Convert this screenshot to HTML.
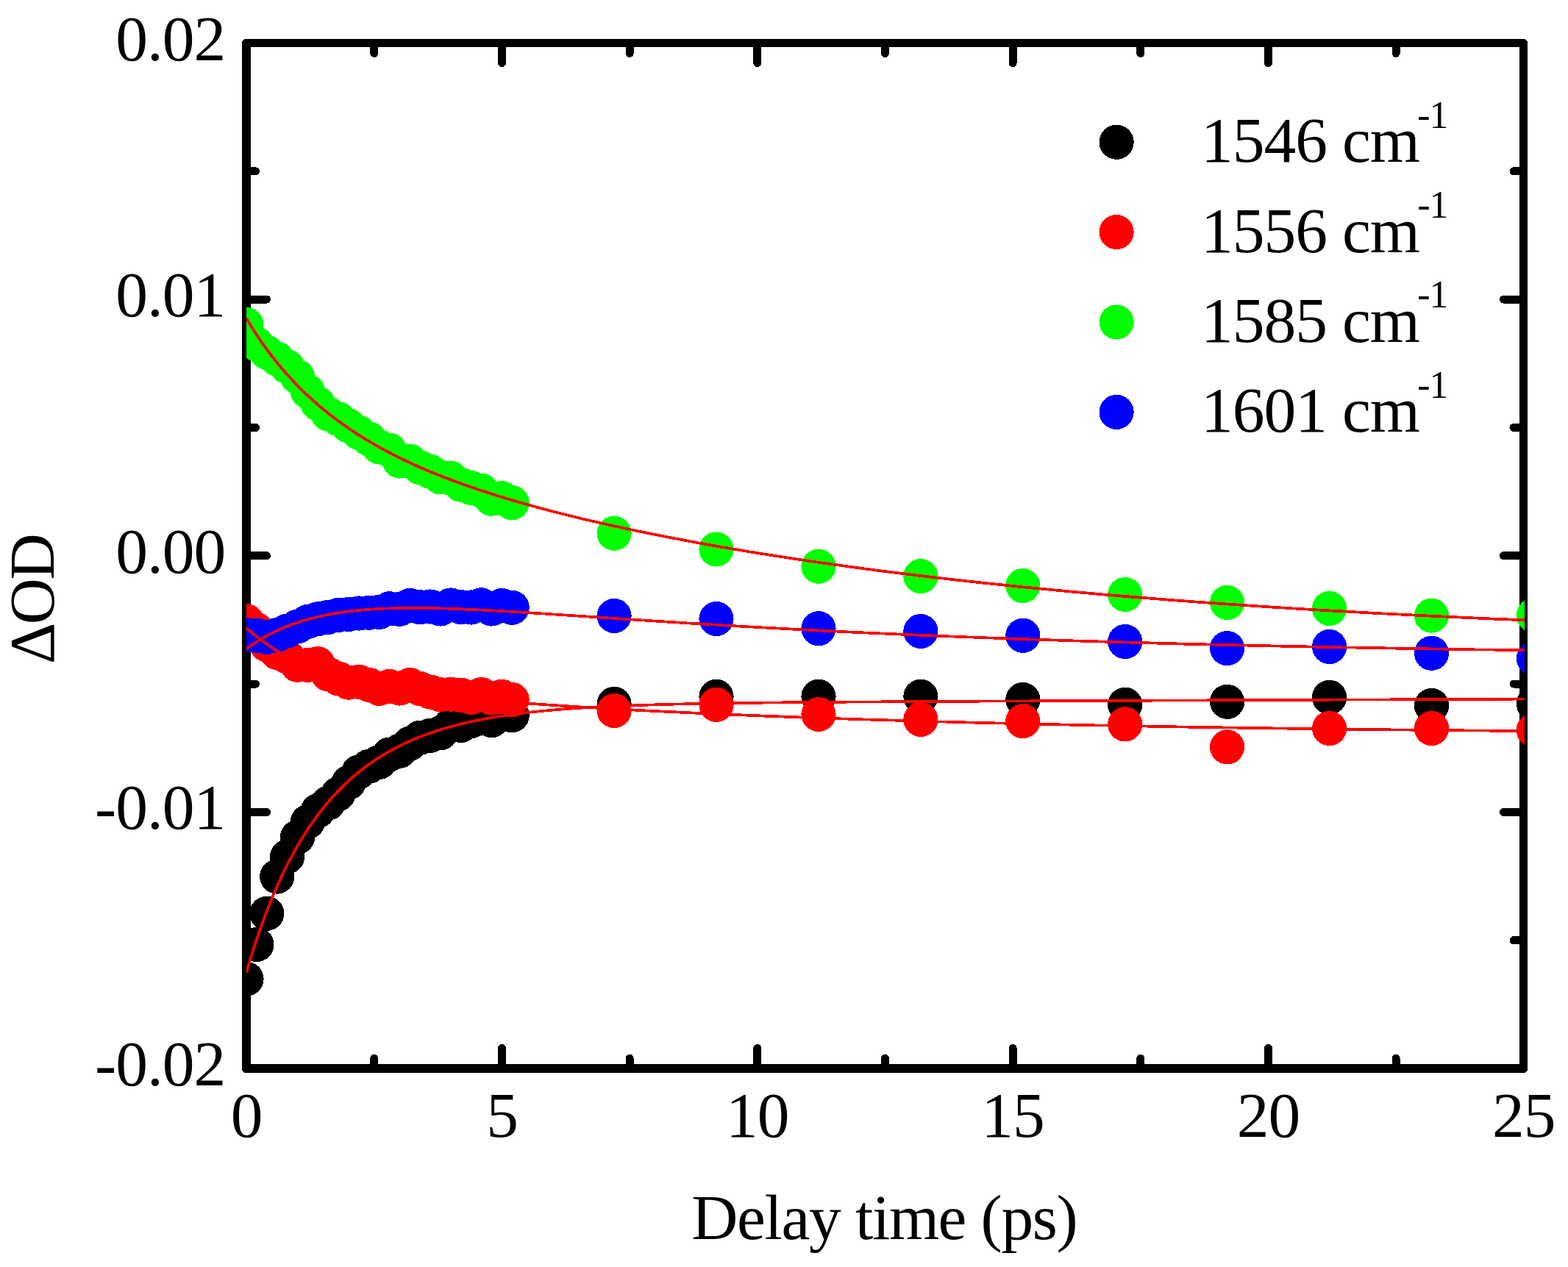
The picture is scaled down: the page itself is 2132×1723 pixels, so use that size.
<!DOCTYPE html>
<html lang="en"><head><meta charset="utf-8"><title>Delay time vs ΔOD</title>
<style>html,body{margin:0;padding:0;background:#fff}body{width:2132px;height:1723px;overflow:hidden}svg{display:block}text{font-family:"Liberation Serif","DejaVu Serif",serif;fill:#000}</style></head><body>
<svg width="2132" height="1723" viewBox="0 0 2132 1723">
<rect width="2132" height="1723" fill="#fff"/>
<defs><clipPath id="plot"><rect x="335" y="58" width="1738" height="1395"/></clipPath></defs>
<g id="frame" fill="#000" shape-rendering="crispEdges">
<path fill-rule="evenodd" d="M334.5,53 H2071.5 A5.5,5.5 0 0 1 2077,58.5 V1453.5 A5.5,5.5 0 0 1 2071.5,1459 H334.5 A5.5,5.5 0 0 1 329,1453.5 V58.5 A5.5,5.5 0 0 1 334.5,53 Z M341,64 V1447 H2066 V64 Z"/>
</g>
<g id="ticks" stroke="#000" stroke-width="11" stroke-linecap="round" fill="none" shape-rendering="crispEdges">
<line x1="508.8" y1="58.5" x2="508.8" y2="72.5"/>
<line x1="508.8" y1="1453.0" x2="508.8" y2="1439.3"/>
<line x1="682.5" y1="58.5" x2="682.5" y2="85.7"/>
<line x1="682.5" y1="1453.0" x2="682.5" y2="1425.5"/>
<line x1="856.1" y1="58.5" x2="856.1" y2="72.5"/>
<line x1="856.1" y1="1453.0" x2="856.1" y2="1439.3"/>
<line x1="1029.8" y1="58.5" x2="1029.8" y2="85.7"/>
<line x1="1029.8" y1="1453.0" x2="1029.8" y2="1425.5"/>
<line x1="1203.4" y1="58.5" x2="1203.4" y2="72.5"/>
<line x1="1203.4" y1="1453.0" x2="1203.4" y2="1439.3"/>
<line x1="1377.1" y1="58.5" x2="1377.1" y2="85.7"/>
<line x1="1377.1" y1="1453.0" x2="1377.1" y2="1425.5"/>
<line x1="1550.8" y1="58.5" x2="1550.8" y2="72.5"/>
<line x1="1550.8" y1="1453.0" x2="1550.8" y2="1439.3"/>
<line x1="1724.4" y1="58.5" x2="1724.4" y2="85.7"/>
<line x1="1724.4" y1="1453.0" x2="1724.4" y2="1425.5"/>
<line x1="1898.0" y1="58.5" x2="1898.0" y2="72.5"/>
<line x1="1898.0" y1="1453.0" x2="1898.0" y2="1439.3"/>
<line x1="335.0" y1="232.9" x2="347.5" y2="232.9"/>
<line x1="2071.5" y1="232.9" x2="2058.0" y2="232.9"/>
<line x1="335.0" y1="407.2" x2="362.5" y2="407.2"/>
<line x1="2071.5" y1="407.2" x2="2044.5" y2="407.2"/>
<line x1="335.0" y1="581.5" x2="347.5" y2="581.5"/>
<line x1="2071.5" y1="581.5" x2="2058.0" y2="581.5"/>
<line x1="335.0" y1="755.8" x2="362.5" y2="755.8"/>
<line x1="2071.5" y1="755.8" x2="2044.5" y2="755.8"/>
<line x1="335.0" y1="930.1" x2="347.5" y2="930.1"/>
<line x1="2071.5" y1="930.1" x2="2058.0" y2="930.1"/>
<line x1="335.0" y1="1104.4" x2="362.5" y2="1104.4"/>
<line x1="2071.5" y1="1104.4" x2="2044.5" y2="1104.4"/>
<line x1="335.0" y1="1278.7" x2="347.5" y2="1278.7"/>
<line x1="2071.5" y1="1278.7" x2="2058.0" y2="1278.7"/>
</g>
<g id="data" clip-path="url(#plot)" shape-rendering="crispEdges">
<g id="series-black" fill="#000">
<circle cx="335.0" cy="1331.2" r="23.6"/>
<circle cx="348.9" cy="1284.5" r="23.6"/>
<circle cx="362.8" cy="1242.3" r="23.6"/>
<circle cx="376.7" cy="1192.1" r="23.6"/>
<circle cx="390.6" cy="1165.0" r="23.6"/>
<circle cx="404.5" cy="1138.5" r="23.6"/>
<circle cx="418.4" cy="1117.6" r="23.6"/>
<circle cx="432.2" cy="1102.7" r="23.6"/>
<circle cx="446.1" cy="1092.2" r="23.6"/>
<circle cx="460.0" cy="1079.6" r="23.6"/>
<circle cx="473.9" cy="1064.4" r="23.6"/>
<circle cx="487.8" cy="1050.0" r="23.6"/>
<circle cx="501.7" cy="1042.2" r="23.6"/>
<circle cx="515.6" cy="1036.4" r="23.6"/>
<circle cx="529.5" cy="1026.2" r="23.6"/>
<circle cx="543.4" cy="1021.3" r="23.6"/>
<circle cx="557.3" cy="1011.2" r="23.6"/>
<circle cx="571.2" cy="1003.2" r="23.6"/>
<circle cx="585.1" cy="1000.3" r="23.6"/>
<circle cx="598.9" cy="996.8" r="23.6"/>
<circle cx="612.8" cy="986.4" r="23.6"/>
<circle cx="626.7" cy="986.5" r="23.6"/>
<circle cx="640.6" cy="980.5" r="23.6"/>
<circle cx="654.5" cy="976.9" r="23.6"/>
<circle cx="668.4" cy="979.6" r="23.6"/>
<circle cx="682.3" cy="971.3" r="23.6"/>
<circle cx="696.2" cy="972.8" r="23.6"/>
<circle cx="835.1" cy="957.4" r="23.6"/>
<circle cx="974.0" cy="947.3" r="23.6"/>
<circle cx="1113.0" cy="947.3" r="23.6"/>
<circle cx="1251.9" cy="947.3" r="23.6"/>
<circle cx="1390.8" cy="951.5" r="23.6"/>
<circle cx="1529.7" cy="958.3" r="23.6"/>
<circle cx="1668.6" cy="954.3" r="23.6"/>
<circle cx="1807.6" cy="948.3" r="23.6"/>
<circle cx="1946.5" cy="959.5" r="23.6"/>
<circle cx="2085.4" cy="957.0" r="23.6"/>
</g>
<g id="series-red" fill="#f00">
<circle cx="335.0" cy="844.5" r="23.6"/>
<circle cx="348.9" cy="856.4" r="23.6"/>
<circle cx="362.8" cy="876.9" r="23.6"/>
<circle cx="376.7" cy="887.4" r="23.6"/>
<circle cx="390.6" cy="893.0" r="23.6"/>
<circle cx="404.5" cy="904.3" r="23.6"/>
<circle cx="418.4" cy="904.4" r="23.6"/>
<circle cx="432.2" cy="902.7" r="23.6"/>
<circle cx="446.1" cy="916.8" r="23.6"/>
<circle cx="460.0" cy="922.8" r="23.6"/>
<circle cx="473.9" cy="928.1" r="23.6"/>
<circle cx="487.8" cy="927.2" r="23.6"/>
<circle cx="501.7" cy="931.3" r="23.6"/>
<circle cx="515.6" cy="936.3" r="23.6"/>
<circle cx="529.5" cy="933.5" r="23.6"/>
<circle cx="543.4" cy="936.0" r="23.6"/>
<circle cx="557.3" cy="931.5" r="23.6"/>
<circle cx="571.2" cy="936.6" r="23.6"/>
<circle cx="585.1" cy="941.0" r="23.6"/>
<circle cx="598.9" cy="944.7" r="23.6"/>
<circle cx="612.8" cy="944.2" r="23.6"/>
<circle cx="626.7" cy="945.3" r="23.6"/>
<circle cx="640.6" cy="948.3" r="23.6"/>
<circle cx="654.5" cy="944.6" r="23.6"/>
<circle cx="668.4" cy="949.2" r="23.6"/>
<circle cx="682.3" cy="947.2" r="23.6"/>
<circle cx="696.2" cy="951.5" r="23.6"/>
<circle cx="835.1" cy="966.5" r="23.6"/>
<circle cx="974.0" cy="958.3" r="23.6"/>
<circle cx="1113.0" cy="971.4" r="23.6"/>
<circle cx="1251.9" cy="978.5" r="23.6"/>
<circle cx="1390.8" cy="980.6" r="23.6"/>
<circle cx="1529.7" cy="984.8" r="23.6"/>
<circle cx="1668.6" cy="1015.8" r="23.6"/>
<circle cx="1807.6" cy="990.5" r="23.6"/>
<circle cx="1946.5" cy="990.5" r="23.6"/>
<circle cx="2085.4" cy="993.0" r="23.6"/>
</g>
<g id="series-green" fill="#0f0">
<circle cx="335.0" cy="441.4" r="23.6"/>
<circle cx="348.9" cy="467.9" r="23.6"/>
<circle cx="362.8" cy="479.2" r="23.6"/>
<circle cx="376.7" cy="488.0" r="23.6"/>
<circle cx="390.6" cy="498.7" r="23.6"/>
<circle cx="404.5" cy="512.4" r="23.6"/>
<circle cx="418.4" cy="532.3" r="23.6"/>
<circle cx="432.2" cy="548.8" r="23.6"/>
<circle cx="446.1" cy="562.8" r="23.6"/>
<circle cx="460.0" cy="569.6" r="23.6"/>
<circle cx="473.9" cy="579.0" r="23.6"/>
<circle cx="487.8" cy="588.3" r="23.6"/>
<circle cx="501.7" cy="596.8" r="23.6"/>
<circle cx="515.6" cy="607.8" r="23.6"/>
<circle cx="529.5" cy="612.2" r="23.6"/>
<circle cx="543.4" cy="627.0" r="23.6"/>
<circle cx="557.3" cy="627.2" r="23.6"/>
<circle cx="571.2" cy="635.9" r="23.6"/>
<circle cx="585.1" cy="641.3" r="23.6"/>
<circle cx="598.9" cy="648.9" r="23.6"/>
<circle cx="612.8" cy="650.3" r="23.6"/>
<circle cx="626.7" cy="659.2" r="23.6"/>
<circle cx="640.6" cy="663.5" r="23.6"/>
<circle cx="654.5" cy="667.2" r="23.6"/>
<circle cx="668.4" cy="678.2" r="23.6"/>
<circle cx="682.3" cy="677.6" r="23.6"/>
<circle cx="696.2" cy="683.7" r="23.6"/>
<circle cx="835.1" cy="725.2" r="23.6"/>
<circle cx="974.0" cy="747.0" r="23.6"/>
<circle cx="1113.0" cy="770.2" r="23.6"/>
<circle cx="1251.9" cy="783.6" r="23.6"/>
<circle cx="1390.8" cy="796.5" r="23.6"/>
<circle cx="1529.7" cy="808.5" r="23.6"/>
<circle cx="1668.6" cy="819.5" r="23.6"/>
<circle cx="1807.6" cy="827.4" r="23.6"/>
<circle cx="1946.5" cy="837.1" r="23.6"/>
<circle cx="2085.4" cy="836.8" r="23.6"/>
</g>
<g id="series-blue" fill="#00f">
<circle cx="335.0" cy="863.4" r="23.6"/>
<circle cx="348.9" cy="864.2" r="23.6"/>
<circle cx="362.8" cy="866.3" r="23.6"/>
<circle cx="376.7" cy="863.5" r="23.6"/>
<circle cx="390.6" cy="858.0" r="23.6"/>
<circle cx="404.5" cy="852.0" r="23.6"/>
<circle cx="418.4" cy="845.4" r="23.6"/>
<circle cx="432.2" cy="841.8" r="23.6"/>
<circle cx="446.1" cy="839.4" r="23.6"/>
<circle cx="460.0" cy="836.5" r="23.6"/>
<circle cx="473.9" cy="835.5" r="23.6"/>
<circle cx="487.8" cy="834.0" r="23.6"/>
<circle cx="501.7" cy="833.2" r="23.6"/>
<circle cx="515.6" cy="832.4" r="23.6"/>
<circle cx="529.5" cy="827.8" r="23.6"/>
<circle cx="543.4" cy="828.3" r="23.6"/>
<circle cx="557.3" cy="823.4" r="23.6"/>
<circle cx="571.2" cy="825.7" r="23.6"/>
<circle cx="585.1" cy="825.0" r="23.6"/>
<circle cx="598.9" cy="828.0" r="23.6"/>
<circle cx="612.8" cy="823.0" r="23.6"/>
<circle cx="626.7" cy="825.7" r="23.6"/>
<circle cx="640.6" cy="826.0" r="23.6"/>
<circle cx="654.5" cy="822.8" r="23.6"/>
<circle cx="668.4" cy="828.0" r="23.6"/>
<circle cx="682.3" cy="823.5" r="23.6"/>
<circle cx="696.2" cy="826.3" r="23.6"/>
<circle cx="835.1" cy="837.5" r="23.6"/>
<circle cx="974.0" cy="841.5" r="23.6"/>
<circle cx="1113.0" cy="854.7" r="23.6"/>
<circle cx="1251.9" cy="858.5" r="23.6"/>
<circle cx="1390.8" cy="864.3" r="23.6"/>
<circle cx="1529.7" cy="872.5" r="23.6"/>
<circle cx="1668.6" cy="881.6" r="23.6"/>
<circle cx="1807.6" cy="879.5" r="23.6"/>
<circle cx="1946.5" cy="888.3" r="23.6"/>
<circle cx="2085.4" cy="895.7" r="23.6"/>
</g>
<g id="fits" fill="none" stroke="#f00" stroke-width="3.7" stroke-linejoin="round">
<path id="fit-black" d="M335.0,1322.5 L341.7,1300.0 L348.4,1279.1 L355.2,1259.6 L361.9,1241.4 L368.6,1224.3 L375.3,1208.4 L382.0,1193.6 L388.7,1179.6 L395.5,1166.6 L402.2,1154.4 L408.9,1142.9 L415.6,1132.1 L422.3,1122.0 L429.1,1112.5 L435.8,1103.5 L442.5,1095.1 L449.2,1087.2 L455.9,1079.8 L462.6,1072.8 L469.4,1066.2 L476.1,1059.9 L482.8,1054.1 L489.5,1048.6 L496.2,1043.4 L503.0,1038.5 L509.7,1033.8 L516.4,1029.5 L523.1,1025.4 L529.8,1021.5 L536.5,1017.8 L543.3,1014.4 L550.0,1011.1 L556.7,1008.0 L563.4,1005.1 L570.1,1002.4 L576.8,999.8 L583.6,997.4 L590.3,995.0 L597.0,992.9 L603.7,990.8 L610.4,988.9 L617.2,987.0 L623.9,985.3 L630.6,983.6 L637.3,982.1 L644.0,980.6 L650.7,979.3 L657.5,977.9 L664.2,976.7 L670.9,975.5 L677.6,974.4 L684.3,973.4 L691.1,972.4 L697.8,971.5 L704.5,970.6 L711.2,969.8 L717.9,969.0 L724.6,968.2 L731.4,967.5 L738.1,966.8 L744.8,966.2 L751.5,965.6 L758.2,965.0 L765.0,964.5 L771.7,964.0 L778.4,963.5 L785.1,963.1 L791.8,962.6 L798.5,962.2 L805.3,961.8 L812.0,961.5 L818.7,961.1 L825.4,960.8 L832.1,960.5 L838.9,960.2 L845.6,959.9 L852.3,959.6 L859.0,959.4 L865.7,959.1 L872.4,958.9 L879.2,958.7 L885.9,958.5 L892.6,958.3 L899.3,958.1 L906.0,957.9 L912.8,957.7 L919.5,957.6 L926.2,957.4 L932.9,957.3 L939.6,957.1 L946.3,957.0 L953.1,956.9 L959.8,956.7 L966.5,956.6 L973.2,956.5 L979.9,956.4 L986.7,956.3 L993.4,956.2 L1000.1,956.1 L1006.8,956.0 L1013.5,955.9 L1020.2,955.8 L1027.0,955.7 L1033.7,955.7 L1040.4,955.6 L1047.1,955.5 L1053.8,955.5 L1060.5,955.4 L1067.3,955.3 L1074.0,955.3 L1080.7,955.2 L1087.4,955.1 L1094.1,955.1 L1100.9,955.0 L1107.6,955.0 L1114.3,954.9 L1121.0,954.9 L1127.7,954.8 L1134.4,954.8 L1141.2,954.7 L1147.9,954.7 L1154.6,954.6 L1161.3,954.6 L1168.0,954.5 L1174.8,954.5 L1181.5,954.5 L1188.2,954.4 L1194.9,954.4 L1201.6,954.3 L1208.3,954.3 L1215.1,954.3 L1221.8,954.2 L1228.5,954.2 L1235.2,954.1 L1241.9,954.1 L1248.7,954.1 L1255.4,954.0 L1262.1,954.0 L1268.8,954.0 L1275.5,953.9 L1282.2,953.9 L1289.0,953.9 L1295.7,953.8 L1302.4,953.8 L1309.1,953.8 L1315.8,953.7 L1322.6,953.7 L1329.3,953.7 L1336.0,953.6 L1342.7,953.6 L1349.4,953.6 L1356.1,953.6 L1362.9,953.5 L1369.6,953.5 L1376.3,953.5 L1383.0,953.4 L1389.7,953.4 L1396.5,953.4 L1403.2,953.3 L1409.9,953.3 L1416.6,953.3 L1423.3,953.3 L1430.0,953.2 L1436.8,953.2 L1443.5,953.2 L1450.2,953.1 L1456.9,953.1 L1463.6,953.1 L1470.3,953.1 L1477.1,953.0 L1483.8,953.0 L1490.5,953.0 L1497.2,952.9 L1503.9,952.9 L1510.7,952.9 L1517.4,952.9 L1524.1,952.8 L1530.8,952.8 L1537.5,952.8 L1544.2,952.7 L1551.0,952.7 L1557.7,952.7 L1564.4,952.7 L1571.1,952.6 L1577.8,952.6 L1584.6,952.6 L1591.3,952.6 L1598.0,952.5 L1604.7,952.5 L1611.4,952.5 L1618.1,952.4 L1624.9,952.4 L1631.6,952.4 L1638.3,952.4 L1645.0,952.3 L1651.7,952.3 L1658.5,952.3 L1665.2,952.3 L1671.9,952.2 L1678.6,952.2 L1685.3,952.2 L1692.0,952.1 L1698.8,952.1 L1705.5,952.1 L1712.2,952.1 L1718.9,952.0 L1725.6,952.0 L1732.4,952.0 L1739.1,952.0 L1745.8,951.9 L1752.5,951.9 L1759.2,951.9 L1765.9,951.8 L1772.7,951.8 L1779.4,951.8 L1786.1,951.8 L1792.8,951.7 L1799.5,951.7 L1806.3,951.7 L1813.0,951.6 L1819.7,951.6 L1826.4,951.6 L1833.1,951.6 L1839.8,951.5 L1846.6,951.5 L1853.3,951.5 L1860.0,951.5 L1866.7,951.4 L1873.4,951.4 L1880.1,951.4 L1886.9,951.4 L1893.6,951.3 L1900.3,951.3 L1907.0,951.3 L1913.7,951.2 L1920.5,951.2 L1927.2,951.2 L1933.9,951.2 L1940.6,951.1 L1947.3,951.1 L1954.0,951.1 L1960.8,951.1 L1967.5,951.0 L1974.2,951.0 L1980.9,951.0 L1987.6,950.9 L1994.4,950.9 L2001.1,950.9 L2007.8,950.9 L2014.5,950.8 L2021.2,950.8 L2027.9,950.8 L2034.7,950.8 L2041.4,950.7 L2048.1,950.7 L2054.8,950.7 L2061.5,950.6 L2068.3,950.6 L2075.0,950.6"/>
<path id="fit-red" d="M335.0,853.9 L341.7,859.8 L348.4,865.3 L355.2,870.5 L361.9,875.3 L368.6,879.8 L375.3,884.1 L382.0,888.0 L388.7,891.8 L395.5,895.3 L402.2,898.6 L408.9,901.7 L415.6,904.6 L422.3,907.3 L429.1,909.9 L435.8,912.4 L442.5,914.7 L449.2,916.9 L455.9,919.0 L462.6,920.9 L469.4,922.8 L476.1,924.5 L482.8,926.2 L489.5,927.8 L496.2,929.3 L503.0,930.7 L509.7,932.1 L516.4,933.4 L523.1,934.7 L529.8,935.9 L536.5,937.0 L543.3,938.1 L550.0,939.1 L556.7,940.2 L563.4,941.1 L570.1,942.1 L576.8,943.0 L583.6,943.8 L590.3,944.7 L597.0,945.5 L603.7,946.2 L610.4,947.0 L617.2,947.7 L623.9,948.4 L630.6,949.1 L637.3,949.8 L644.0,950.4 L650.7,951.1 L657.5,951.7 L664.2,952.3 L670.9,952.9 L677.6,953.5 L684.3,954.0 L691.1,954.6 L697.8,955.1 L704.5,955.6 L711.2,956.1 L717.9,956.6 L724.6,957.1 L731.4,957.6 L738.1,958.1 L744.8,958.5 L751.5,959.0 L758.2,959.4 L765.0,959.9 L771.7,960.3 L778.4,960.7 L785.1,961.2 L791.8,961.6 L798.5,962.0 L805.3,962.4 L812.0,962.8 L818.7,963.2 L825.4,963.6 L832.1,963.9 L838.9,964.3 L845.6,964.7 L852.3,965.0 L859.0,965.4 L865.7,965.8 L872.4,966.1 L879.2,966.5 L885.9,966.8 L892.6,967.1 L899.3,967.5 L906.0,967.8 L912.8,968.1 L919.5,968.4 L926.2,968.8 L932.9,969.1 L939.6,969.4 L946.3,969.7 L953.1,970.0 L959.8,970.3 L966.5,970.6 L973.2,970.9 L979.9,971.2 L986.7,971.5 L993.4,971.8 L1000.1,972.0 L1006.8,972.3 L1013.5,972.6 L1020.2,972.9 L1027.0,973.1 L1033.7,973.4 L1040.4,973.7 L1047.1,973.9 L1053.8,974.2 L1060.5,974.4 L1067.3,974.7 L1074.0,974.9 L1080.7,975.2 L1087.4,975.4 L1094.1,975.7 L1100.9,975.9 L1107.6,976.1 L1114.3,976.4 L1121.0,976.6 L1127.7,976.8 L1134.4,977.1 L1141.2,977.3 L1147.9,977.5 L1154.6,977.7 L1161.3,978.0 L1168.0,978.2 L1174.8,978.4 L1181.5,978.6 L1188.2,978.8 L1194.9,979.0 L1201.6,979.2 L1208.3,979.4 L1215.1,979.6 L1221.8,979.8 L1228.5,980.0 L1235.2,980.2 L1241.9,980.4 L1248.7,980.6 L1255.4,980.8 L1262.1,981.0 L1268.8,981.2 L1275.5,981.4 L1282.2,981.5 L1289.0,981.7 L1295.7,981.9 L1302.4,982.1 L1309.1,982.3 L1315.8,982.4 L1322.6,982.6 L1329.3,982.8 L1336.0,982.9 L1342.7,983.1 L1349.4,983.3 L1356.1,983.4 L1362.9,983.6 L1369.6,983.8 L1376.3,983.9 L1383.0,984.1 L1389.7,984.2 L1396.5,984.4 L1403.2,984.5 L1409.9,984.7 L1416.6,984.8 L1423.3,985.0 L1430.0,985.1 L1436.8,985.3 L1443.5,985.4 L1450.2,985.6 L1456.9,985.7 L1463.6,985.8 L1470.3,986.0 L1477.1,986.1 L1483.8,986.2 L1490.5,986.4 L1497.2,986.5 L1503.9,986.6 L1510.7,986.8 L1517.4,986.9 L1524.1,987.0 L1530.8,987.2 L1537.5,987.3 L1544.2,987.4 L1551.0,987.5 L1557.7,987.6 L1564.4,987.8 L1571.1,987.9 L1577.8,988.0 L1584.6,988.1 L1591.3,988.2 L1598.0,988.3 L1604.7,988.5 L1611.4,988.6 L1618.1,988.7 L1624.9,988.8 L1631.6,988.9 L1638.3,989.0 L1645.0,989.1 L1651.7,989.2 L1658.5,989.3 L1665.2,989.4 L1671.9,989.5 L1678.6,989.6 L1685.3,989.7 L1692.0,989.8 L1698.8,989.9 L1705.5,990.0 L1712.2,990.1 L1718.9,990.2 L1725.6,990.3 L1732.4,990.4 L1739.1,990.5 L1745.8,990.6 L1752.5,990.7 L1759.2,990.8 L1765.9,990.9 L1772.7,990.9 L1779.4,991.0 L1786.1,991.1 L1792.8,991.2 L1799.5,991.3 L1806.3,991.4 L1813.0,991.4 L1819.7,991.5 L1826.4,991.6 L1833.1,991.7 L1839.8,991.8 L1846.6,991.8 L1853.3,991.9 L1860.0,992.0 L1866.7,992.1 L1873.4,992.2 L1880.1,992.2 L1886.9,992.3 L1893.6,992.4 L1900.3,992.4 L1907.0,992.5 L1913.7,992.6 L1920.5,992.7 L1927.2,992.7 L1933.9,992.8 L1940.6,992.9 L1947.3,992.9 L1954.0,993.0 L1960.8,993.1 L1967.5,993.1 L1974.2,993.2 L1980.9,993.3 L1987.6,993.3 L1994.4,993.4 L2001.1,993.5 L2007.8,993.5 L2014.5,993.6 L2021.2,993.6 L2027.9,993.7 L2034.7,993.8 L2041.4,993.8 L2048.1,993.9 L2054.8,993.9 L2061.5,994.0 L2068.3,994.0 L2075.0,994.1"/>
<path id="fit-green" d="M335.0,432.6 L341.7,444.0 L348.4,454.6 L355.2,464.6 L361.9,474.0 L368.6,483.0 L375.3,491.5 L382.0,499.6 L388.7,507.4 L395.5,514.8 L402.2,521.9 L408.9,528.7 L415.6,535.3 L422.3,541.5 L429.1,547.6 L435.8,553.4 L442.5,558.9 L449.2,564.3 L455.9,569.4 L462.6,574.4 L469.4,579.2 L476.1,583.8 L482.8,588.3 L489.5,592.6 L496.2,596.8 L503.0,600.8 L509.7,604.7 L516.4,608.5 L523.1,612.2 L529.8,615.7 L536.5,619.2 L543.3,622.5 L550.0,625.8 L556.7,629.0 L563.4,632.1 L570.1,635.1 L576.8,638.0 L583.6,640.8 L590.3,643.6 L597.0,646.3 L603.7,649.0 L610.4,651.5 L617.2,654.1 L623.9,656.5 L630.6,659.0 L637.3,661.3 L644.0,663.6 L650.7,665.9 L657.5,668.1 L664.2,670.3 L670.9,672.5 L677.6,674.6 L684.3,676.6 L691.1,678.7 L697.8,680.7 L704.5,682.6 L711.2,684.5 L717.9,686.4 L724.6,688.3 L731.4,690.1 L738.1,691.9 L744.8,693.7 L751.5,695.5 L758.2,697.2 L765.0,698.9 L771.7,700.6 L778.4,702.2 L785.1,703.9 L791.8,705.5 L798.5,707.1 L805.3,708.6 L812.0,710.2 L818.7,711.7 L825.4,713.2 L832.1,714.7 L838.9,716.2 L845.6,717.7 L852.3,719.1 L859.0,720.5 L865.7,721.9 L872.4,723.3 L879.2,724.7 L885.9,726.1 L892.6,727.4 L899.3,728.7 L906.0,730.0 L912.8,731.3 L919.5,732.6 L926.2,733.9 L932.9,735.2 L939.6,736.4 L946.3,737.7 L953.1,738.9 L959.8,740.1 L966.5,741.3 L973.2,742.5 L979.9,743.7 L986.7,744.8 L993.4,746.0 L1000.1,747.1 L1006.8,748.2 L1013.5,749.4 L1020.2,750.5 L1027.0,751.6 L1033.7,752.7 L1040.4,753.7 L1047.1,754.8 L1053.8,755.9 L1060.5,756.9 L1067.3,757.9 L1074.0,759.0 L1080.7,760.0 L1087.4,761.0 L1094.1,762.0 L1100.9,763.0 L1107.6,764.0 L1114.3,764.9 L1121.0,765.9 L1127.7,766.9 L1134.4,767.8 L1141.2,768.7 L1147.9,769.7 L1154.6,770.6 L1161.3,771.5 L1168.0,772.4 L1174.8,773.3 L1181.5,774.2 L1188.2,775.1 L1194.9,776.0 L1201.6,776.8 L1208.3,777.7 L1215.1,778.5 L1221.8,779.4 L1228.5,780.2 L1235.2,781.0 L1241.9,781.8 L1248.7,782.7 L1255.4,783.5 L1262.1,784.3 L1268.8,785.0 L1275.5,785.8 L1282.2,786.6 L1289.0,787.4 L1295.7,788.1 L1302.4,788.9 L1309.1,789.6 L1315.8,790.4 L1322.6,791.1 L1329.3,791.9 L1336.0,792.6 L1342.7,793.3 L1349.4,794.0 L1356.1,794.7 L1362.9,795.4 L1369.6,796.1 L1376.3,796.8 L1383.0,797.5 L1389.7,798.2 L1396.5,798.8 L1403.2,799.5 L1409.9,800.1 L1416.6,800.8 L1423.3,801.4 L1430.0,802.1 L1436.8,802.7 L1443.5,803.3 L1450.2,804.0 L1456.9,804.6 L1463.6,805.2 L1470.3,805.8 L1477.1,806.4 L1483.8,807.0 L1490.5,807.6 L1497.2,808.2 L1503.9,808.8 L1510.7,809.3 L1517.4,809.9 L1524.1,810.5 L1530.8,811.0 L1537.5,811.6 L1544.2,812.1 L1551.0,812.7 L1557.7,813.2 L1564.4,813.8 L1571.1,814.3 L1577.8,814.8 L1584.6,815.3 L1591.3,815.9 L1598.0,816.4 L1604.7,816.9 L1611.4,817.4 L1618.1,817.9 L1624.9,818.4 L1631.6,818.9 L1638.3,819.4 L1645.0,819.9 L1651.7,820.3 L1658.5,820.8 L1665.2,821.3 L1671.9,821.7 L1678.6,822.2 L1685.3,822.7 L1692.0,823.1 L1698.8,823.6 L1705.5,824.0 L1712.2,824.5 L1718.9,824.9 L1725.6,825.3 L1732.4,825.8 L1739.1,826.2 L1745.8,826.6 L1752.5,827.0 L1759.2,827.5 L1765.9,827.9 L1772.7,828.3 L1779.4,828.7 L1786.1,829.1 L1792.8,829.5 L1799.5,829.9 L1806.3,830.3 L1813.0,830.7 L1819.7,831.0 L1826.4,831.4 L1833.1,831.8 L1839.8,832.2 L1846.6,832.6 L1853.3,832.9 L1860.0,833.3 L1866.7,833.7 L1873.4,834.0 L1880.1,834.4 L1886.9,834.7 L1893.6,835.1 L1900.3,835.4 L1907.0,835.8 L1913.7,836.1 L1920.5,836.4 L1927.2,836.8 L1933.9,837.1 L1940.6,837.4 L1947.3,837.8 L1954.0,838.1 L1960.8,838.4 L1967.5,838.7 L1974.2,839.0 L1980.9,839.3 L1987.6,839.7 L1994.4,840.0 L2001.1,840.3 L2007.8,840.6 L2014.5,840.9 L2021.2,841.2 L2027.9,841.5 L2034.7,841.8 L2041.4,842.0 L2048.1,842.3 L2054.8,842.6 L2061.5,842.9 L2068.3,843.2 L2075.0,843.4"/>
<path id="fit-blue" d="M335.0,882.4 L341.7,877.6 L348.4,873.2 L355.2,869.0 L361.9,865.1 L368.6,861.6 L375.3,858.3 L382.0,855.2 L388.7,852.4 L395.5,849.8 L402.2,847.4 L408.9,845.2 L415.6,843.1 L422.3,841.3 L429.1,839.5 L435.8,838.0 L442.5,836.6 L449.2,835.3 L455.9,834.1 L462.6,833.0 L469.4,832.1 L476.1,831.2 L482.8,830.5 L489.5,829.8 L496.2,829.2 L503.0,828.7 L509.7,828.3 L516.4,827.9 L523.1,827.6 L529.8,827.4 L536.5,827.2 L543.3,827.0 L550.0,826.9 L556.7,826.9 L563.4,826.9 L570.1,826.9 L576.8,827.0 L583.6,827.0 L590.3,827.2 L597.0,827.3 L603.7,827.5 L610.4,827.7 L617.2,828.0 L623.9,828.2 L630.6,828.5 L637.3,828.8 L644.0,829.1 L650.7,829.4 L657.5,829.7 L664.2,830.1 L670.9,830.4 L677.6,830.8 L684.3,831.2 L691.1,831.6 L697.8,832.0 L704.5,832.4 L711.2,832.8 L717.9,833.2 L724.6,833.6 L731.4,834.1 L738.1,834.5 L744.8,834.9 L751.5,835.4 L758.2,835.8 L765.0,836.3 L771.7,836.7 L778.4,837.1 L785.1,837.6 L791.8,838.0 L798.5,838.5 L805.3,838.9 L812.0,839.4 L818.7,839.8 L825.4,840.3 L832.1,840.7 L838.9,841.2 L845.6,841.6 L852.3,842.1 L859.0,842.5 L865.7,843.0 L872.4,843.4 L879.2,843.8 L885.9,844.3 L892.6,844.7 L899.3,845.1 L906.0,845.6 L912.8,846.0 L919.5,846.4 L926.2,846.8 L932.9,847.3 L939.6,847.7 L946.3,848.1 L953.1,848.5 L959.8,848.9 L966.5,849.3 L973.2,849.7 L979.9,850.1 L986.7,850.5 L993.4,850.9 L1000.1,851.3 L1006.8,851.7 L1013.5,852.1 L1020.2,852.5 L1027.0,852.8 L1033.7,853.2 L1040.4,853.6 L1047.1,853.9 L1053.8,854.3 L1060.5,854.7 L1067.3,855.0 L1074.0,855.4 L1080.7,855.8 L1087.4,856.1 L1094.1,856.5 L1100.9,856.8 L1107.6,857.1 L1114.3,857.5 L1121.0,857.8 L1127.7,858.1 L1134.4,858.5 L1141.2,858.8 L1147.9,859.1 L1154.6,859.5 L1161.3,859.8 L1168.0,860.1 L1174.8,860.4 L1181.5,860.7 L1188.2,861.0 L1194.9,861.3 L1201.6,861.6 L1208.3,861.9 L1215.1,862.2 L1221.8,862.5 L1228.5,862.8 L1235.2,863.1 L1241.9,863.4 L1248.7,863.7 L1255.4,864.0 L1262.1,864.2 L1268.8,864.5 L1275.5,864.8 L1282.2,865.1 L1289.0,865.3 L1295.7,865.6 L1302.4,865.8 L1309.1,866.1 L1315.8,866.4 L1322.6,866.6 L1329.3,866.9 L1336.0,867.1 L1342.7,867.4 L1349.4,867.6 L1356.1,867.9 L1362.9,868.1 L1369.6,868.4 L1376.3,868.6 L1383.0,868.8 L1389.7,869.1 L1396.5,869.3 L1403.2,869.5 L1409.9,869.7 L1416.6,870.0 L1423.3,870.2 L1430.0,870.4 L1436.8,870.6 L1443.5,870.9 L1450.2,871.1 L1456.9,871.3 L1463.6,871.5 L1470.3,871.7 L1477.1,871.9 L1483.8,872.1 L1490.5,872.3 L1497.2,872.5 L1503.9,872.7 L1510.7,872.9 L1517.4,873.1 L1524.1,873.3 L1530.8,873.5 L1537.5,873.7 L1544.2,873.9 L1551.0,874.1 L1557.7,874.2 L1564.4,874.4 L1571.1,874.6 L1577.8,874.8 L1584.6,875.0 L1591.3,875.1 L1598.0,875.3 L1604.7,875.5 L1611.4,875.7 L1618.1,875.8 L1624.9,876.0 L1631.6,876.2 L1638.3,876.3 L1645.0,876.5 L1651.7,876.6 L1658.5,876.8 L1665.2,877.0 L1671.9,877.1 L1678.6,877.3 L1685.3,877.4 L1692.0,877.6 L1698.8,877.7 L1705.5,877.9 L1712.2,878.0 L1718.9,878.2 L1725.6,878.3 L1732.4,878.5 L1739.1,878.6 L1745.8,878.8 L1752.5,878.9 L1759.2,879.0 L1765.9,879.2 L1772.7,879.3 L1779.4,879.4 L1786.1,879.6 L1792.8,879.7 L1799.5,879.8 L1806.3,880.0 L1813.0,880.1 L1819.7,880.2 L1826.4,880.4 L1833.1,880.5 L1839.8,880.6 L1846.6,880.7 L1853.3,880.8 L1860.0,881.0 L1866.7,881.1 L1873.4,881.2 L1880.1,881.3 L1886.9,881.4 L1893.6,881.6 L1900.3,881.7 L1907.0,881.8 L1913.7,881.9 L1920.5,882.0 L1927.2,882.1 L1933.9,882.2 L1940.6,882.3 L1947.3,882.4 L1954.0,882.5 L1960.8,882.6 L1967.5,882.8 L1974.2,882.9 L1980.9,883.0 L1987.6,883.1 L1994.4,883.2 L2001.1,883.3 L2007.8,883.4 L2014.5,883.5 L2021.2,883.5 L2027.9,883.6 L2034.7,883.7 L2041.4,883.8 L2048.1,883.9 L2054.8,884.0 L2061.5,884.1 L2068.3,884.2 L2075.0,884.3"/>
</g></g>
<g id="labels" font-size="87.5px" letter-spacing="-1.0">
<text x="306.3" y="81.9" text-anchor="end">0.02</text>
<text x="306.3" y="430.3" text-anchor="end">0.01</text>
<text x="306.3" y="778.7" text-anchor="end">0.00</text>
<text x="306.3" y="1127.1" text-anchor="end">-0.01</text>
<text x="306.3" y="1475.5" text-anchor="end">-0.02</text>
<text x="335.2" y="1546.4" text-anchor="middle">0</text>
<text x="682.5" y="1546.4" text-anchor="middle">5</text>
<text x="1029.8" y="1546.4" text-anchor="middle">10</text>
<text x="1377.1" y="1546.4" text-anchor="middle">15</text>
<text x="1724.4" y="1546.4" text-anchor="middle">20</text>
<text x="2071.7" y="1546.4" text-anchor="middle">25</text>
<text x="1202.3" y="1684.8" text-anchor="middle" letter-spacing="-1.35">Delay time (ps)</text>
<text transform="translate(73,815.5) rotate(-90)" text-anchor="middle" letter-spacing="-2.5">ΔOD</text>
</g>
<g id="legend" shape-rendering="crispEdges">
<circle cx="1518.1" cy="193.2" r="23.6" fill="#000"/>
<text x="1633" y="220.2" font-size="87.5px" letter-spacing="-1.0">1546 cm<tspan font-size="52px" dy="-46.6" dx="-2.5">-1</tspan></text>
<circle cx="1518.1" cy="315.6" r="23.6" fill="#f00"/>
<text x="1633" y="342.6" font-size="87.5px" letter-spacing="-1.0">1556 cm<tspan font-size="52px" dy="-46.6" dx="-2.5">-1</tspan></text>
<circle cx="1518.1" cy="438.0" r="23.6" fill="#0f0"/>
<text x="1633" y="465.0" font-size="87.5px" letter-spacing="-1.0">1585 cm<tspan font-size="52px" dy="-46.6" dx="-2.5">-1</tspan></text>
<circle cx="1518.1" cy="560.4" r="23.6" fill="#00f"/>
<text x="1633" y="587.4" font-size="87.5px" letter-spacing="-1.0">1601 cm<tspan font-size="52px" dy="-46.6" dx="-2.5">-1</tspan></text>
</g>
</svg></body></html>
